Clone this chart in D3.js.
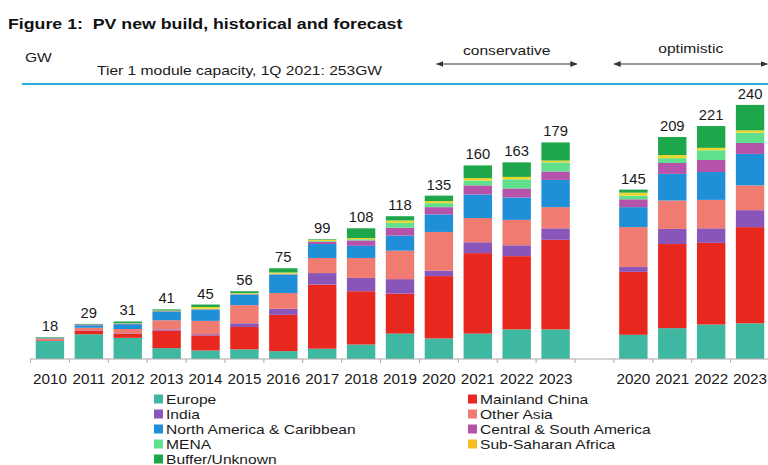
<!DOCTYPE html>
<html>
<head>
<meta charset="utf-8">
<script src="https://cdn.jsdelivr.net/npm/d3@7"></script>
<style>
body{margin:0;background:#fff;}
text{font-family:"Liberation Sans",Arial,sans-serif;fill:#1a1a1a;white-space:pre;}
</style>
</head>
<body>
<svg id="chart" width="768" height="465"></svg>
<script>
// historical + conservative years, then optimistic years
var years = ["2010","2011","2012","2013","2014","2015","2016","2017","2018","2019","2020","2021","2022","2023"];
var optYears = ["2020","2021","2022","2023"];
var totals = [18,29,31,41,45,56,75,99,108,118,135,160,163,179, 145,209,221,240];

var seriesNames = ["Europe","Mainland China","India","Other Asia","North America & Caribbean",
                   "Central & South America","MENA","Sub-Saharan Africa","Buffer/Unknown"];

var europe   = [15,20.5,17.5,9,7,8,6.5,8.5,12,21,17,21,24.5,24.5, 20,25.5,28.5,29.5];
var china    = [0.5,3,3.5,14.5,12.5,18.5,30,53,44,33,51.5,66.5,60.5,74, 52,69.5,67.5,79.5];
var india    = [0,0.3,0.3,1,1,3,5,9.5,11,12,4.5,9,9,9.5, 4,12.5,12,14];
var otherAsia= [1.5,2,3.5,7.5,11,15,13,12.5,16.5,23.5,32,20,21,17.5, 33,23.5,23.5,20.5];
var northAm  = [0.5,2,4,7,9,8.5,15,11.5,10,12.5,14.5,19.5,18.5,22.5, 16.5,22,23,26];
var csAm     = [0,0.7,0.5,0.5,0.5,0.5,0.5,2,4.5,6.5,6,7.5,7.5,7, 6.5,9,10,9];
var mena     = [0,0,0.2,0.2,0.5,0.5,0.5,0.5,1,4,3.3,4,7.5,7.5, 3,4,8,8.5];
var ssa      = [0,0,0.2,0.3,1.5,0.5,1,1,1,2,1.7,2,2,1.5, 2.5,2.5,2,2];
var buffer   = [0.5,0.5,1.3,1,2,1.5,3.5,0.5,8,3.5,4.5,10.5,12,15, 2.5,15,18,21];

var colors = ["#3fb8a2","#e8281e","#8a55b8","#f07b70","#1f8fd8","#b552aa","#5ee08c","#eed52a","#1ea64a"];
var legendColors = ["#3fb8a2","#e8281e","#8a55b8","#f07b70","#1f8fd8","#b552aa","#5ee08c","#f5be1e","#1ea64a"];

var values = [europe,china,india,otherAsia,northAm,csAm,mena,ssa,buffer];

// slot keys: one empty slot between the two groups
var slots = years.map(d=>"c"+d).concat(["gap"]).concat(optYears.map(d=>"o"+d));
var barSlots = years.map(d=>"c"+d).concat(optYears.map(d=>"o"+d));

var rows = barSlots.map((s,i)=>{
    var r = {slot:s,total:totals[i]};
    seriesNames.forEach((n,j)=>{ r[n]=values[j][i]; });
    return r;
});

var baseY = 359;
var x = d3.scaleBand().domain(slots).range([30.5,769.5]).paddingInner(0.27).paddingOuter(0.135);
var y = d3.scaleLinear().domain([0,220]).range([baseY, baseY-220*1.21]);
var sx = 1.2; // text in the source is a bit stretched sideways

var svg = d3.select("#chart");

function label(g,txt,px,py,size,anchor,weight,scale){
    var k = scale||sx;
    return g.append("text")
        .attr("transform","translate("+px+","+py+") scale("+k+",1)")
        .attr("text-anchor",anchor||"start")
        .style("font-size",size+"px")
        .style("font-weight",weight||"normal")
        .text(txt);
}

// header
label(svg,"Figure 1:  PV new build, historical and forecast",8,29,14.8,"start","bold").style("fill","#111");
label(svg,"GW",25,62,13);
label(svg,"Tier 1 module capacity, 1Q 2021: 253GW",97,75,13);
svg.append("line").attr("x1",22).attr("x2",768).attr("y1",84).attr("y2",84)
    .attr("stroke","#2aa8e0").attr("stroke-width",2);

// scenario arrows
svg.append("defs").append("marker").attr("id","ah")
    .attr("viewBox","0 0 10 10").attr("refX",9).attr("refY",5)
    .attr("markerWidth",6).attr("markerHeight",6).attr("orient","auto-start-reverse")
    .append("path").attr("d","M0,1L10,5L0,9Z").attr("fill","#333");

var bw = x.bandwidth();
var arrows = [
    {name:"conservative",x1:x("c2020")+12,x2:x("c2023")+bw+7,ty:55},
    {name:"optimistic",x1:x("o2020")-5,x2:x("o2023")+bw+3,ty:53}
];
arrows.forEach(a=>{
    svg.append("line").attr("x1",a.x1).attr("x2",a.x2).attr("y1",64).attr("y2",64)
        .attr("stroke","#333").attr("stroke-width",1.2)
        .attr("marker-start","url(#ah)").attr("marker-end","url(#ah)");
    label(svg,a.name,(a.x1+a.x2)/2,a.ty,13,"middle");
});

// stacked bars
var stack = d3.stack().keys(seriesNames);
var layers = stack(rows);

var plot = svg.append("g");
plot.selectAll("g.layer").data(layers).enter().append("g")
    .attr("class","layer")
    .attr("fill",(d,i)=>colors[i])
    .selectAll("rect").data(d=>d.filter(p=>p[1]-p[0]>0)).enter().append("rect")
    .attr("x",d=>x(d.data.slot))
    .attr("width",bw)
    .attr("y",d=>y(d[1]))
    .attr("height",d=>y(d[0])-y(d[1]));

// total labels
rows.forEach((r,i)=>{
    var top = d3.sum(seriesNames,n=>r[n]);
    label(plot,r.total,x(r.slot)+bw/2,y(top)-6,14.5,"middle","normal",1.02);
});

// x axis
var xaxis = d3.axisBottom(x).tickSize(0).tickPadding(0)
    .tickFormat(d=>d==="gap"?"":d.slice(1));
var ax = svg.append("g").attr("transform","translate(0,"+baseY+")").call(xaxis);
ax.select(".domain").attr("stroke","#aaa").attr("d","M30,0H768");
ax.selectAll(".tick text")
    .attr("y",0).attr("dy",0)
    .attr("transform","translate(0,24.5) scale(1.03,1)")
    .style("font-size","14.8px").style("fill","#1a1a1a");

var step = x.step();
var tickX = slots.map(s=>x(s)-(step-bw)/2).concat([x(slots[slots.length-1])+bw+(step-bw)/2]);
ax.selectAll("line.tk").data(tickX).enter().append("line").attr("class","tk")
    .attr("x1",d=>d).attr("x2",d=>d).attr("y1",0).attr("y2",4)
    .attr("stroke","#aaa");

// legend, two columns, read row-wise
var legend = svg.append("g");
seriesNames.forEach((n,i)=>{
    var col = i%2, row = Math.floor(i/2);
    var lx = col===0?154:468, ly = 399+row*15;
    legend.append("rect").attr("x",lx).attr("y",ly-4.5).attr("width",9).attr("height",9)
        .attr("fill",legendColors[i]);
    label(legend,n,lx+12,ly+4.5,13);
});
</script>
</body>
</html>
